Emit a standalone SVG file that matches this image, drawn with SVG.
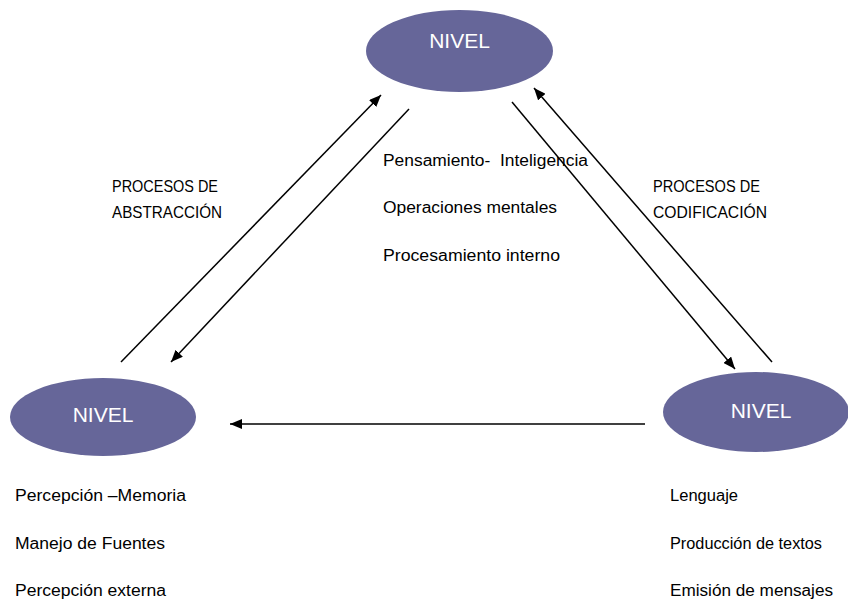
<svg xmlns="http://www.w3.org/2000/svg" width="848" height="603" viewBox="0 0 848 603">
<style>
.node ellipse{fill:#666699}
.nl{font-family:"Liberation Sans",Arial,sans-serif;font-size:21px;fill:#ffffff;text-anchor:middle}
.t{font-family:"Liberation Sans",Arial,sans-serif;font-size:16px;fill:#000000}
.h{font-family:"Liberation Sans",Arial,sans-serif;font-size:16.5px;fill:#000000}
.c line{stroke:#000;stroke-width:1.5;marker-end:url(#ah)}
</style>
<defs>
<marker id="ah" viewBox="0 0 12 10" refX="12" refY="5" markerWidth="12" markerHeight="10" markerUnits="userSpaceOnUse" orient="auto">
<path d="M0,0 L12,5 L0,10 z" fill="#000"/>
</marker>
</defs>
<rect width="848" height="603" fill="#ffffff"/>
<g id="connectors" class="c">
<line x1="121" y1="362" x2="381" y2="95"/>
<line x1="409" y1="109" x2="171" y2="362"/>
<line x1="512" y1="102" x2="735" y2="369"/>
<line x1="772" y1="362" x2="534" y2="88"/>
<line x1="645" y1="424" x2="230" y2="424"/>
</g>
<g id="node-top" class="node">
<ellipse cx="459.5" cy="51" rx="93.5" ry="41"/>
<text class="nl" x="459.5" y="48">NIVEL</text>
</g>
<g id="node-left" class="node">
<ellipse cx="103" cy="417" rx="93" ry="39"/>
<text class="nl" x="103" y="422">NIVEL</text>
</g>
<g id="node-right" class="node">
<ellipse cx="756" cy="412" rx="93" ry="40"/>
<text class="nl" x="761" y="418">NIVEL</text>
</g>
<g id="labels">
<text class="h" x="112" y="192" textLength="106" lengthAdjust="spacingAndGlyphs">PROCESOS DE</text>
<text class="h" x="112" y="218" textLength="110" lengthAdjust="spacingAndGlyphs">ABSTRACCIÓN</text>
<text class="h" x="653" y="192" textLength="107" lengthAdjust="spacingAndGlyphs">PROCESOS DE</text>
<text class="h" x="653" y="218" textLength="114" lengthAdjust="spacingAndGlyphs">CODIFICACIÓN</text>
<text class="t" x="383" y="166" textLength="205" lengthAdjust="spacingAndGlyphs" xml:space="preserve">Pensamiento-  Inteligencia</text>
<text class="t" x="383" y="213" textLength="174" lengthAdjust="spacingAndGlyphs">Operaciones mentales</text>
<text class="t" x="383" y="261" textLength="177" lengthAdjust="spacingAndGlyphs">Procesamiento interno</text>
<text class="t" x="15" y="501" textLength="171" lengthAdjust="spacingAndGlyphs">Percepción –Memoria</text>
<text class="t" x="15" y="549" textLength="150" lengthAdjust="spacingAndGlyphs">Manejo de Fuentes</text>
<text class="t" x="15" y="596" textLength="151" lengthAdjust="spacingAndGlyphs">Percepción externa</text>
<text class="t" x="670" y="501" textLength="68" lengthAdjust="spacingAndGlyphs">Lenguaje</text>
<text class="t" x="670" y="549" textLength="152" lengthAdjust="spacingAndGlyphs">Producción de textos</text>
<text class="t" x="670" y="596" textLength="163" lengthAdjust="spacingAndGlyphs">Emisión de mensajes</text>
</g>
</svg>
